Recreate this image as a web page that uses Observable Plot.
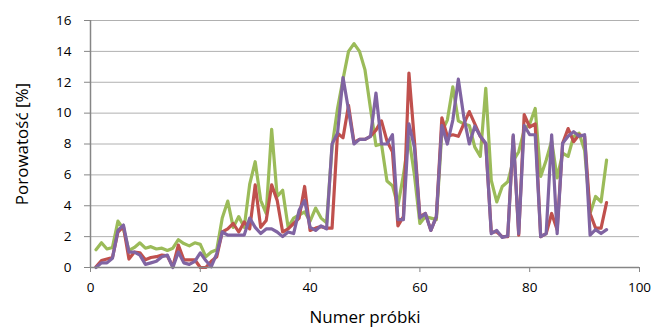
<!DOCTYPE html>
<html><head><meta charset="utf-8">
<script src="https://cdn.jsdelivr.net/npm/d3@7"></script>
<script src="https://cdn.jsdelivr.net/npm/@observablehq/plot@0.6"></script>
<style>body{margin:0;background:#fff}#chart{width:651px;height:331px}</style>
</head><body><div id="chart"></div>
<script>
const seriesNames = ["Seria 1", "Seria 2", "Seria 3"];
const seriesColors = ["#9BBB59", "#C0504D", "#8064A2"];
const green = [1.15,1.6,1.2,1.3,3.0,2.5,1.1,1.3,1.6,1.25,1.35,1.2,1.25,1.1,1.25,1.8,1.55,1.4,1.6,1.5,
  0.7,1.0,1.15,3.2,4.3,2.6,3.3,2.6,5.4,6.85,4.35,3.5,8.95,4.6,5.0,2.6,3.2,3.4,3.6,3.0,
  3.85,3.2,2.9,7.8,10.3,12.2,14.0,14.5,14.0,12.8,10.3,7.9,8.0,5.6,5.3,4.0,6.0,8.4,6.0,2.85,
  3.3,3.2,3.1,8.8,9.55,11.7,9.5,9.3,9.2,7.8,7.2,11.6,5.65,4.25,5.25,5.55,6.9,7.5,8.9,9.3,
  10.3,5.9,6.95,8.2,5.8,7.4,7.2,8.5,8.7,7.6,3.5,4.6,4.25,6.95];
const red = [0.05,0.45,0.55,0.65,2.3,2.65,0.55,1.0,0.95,0.5,0.65,0.7,0.8,0.75,0.05,1.45,0.5,0.5,0.5,0.0,
  0.0,0.4,0.7,2.3,2.5,2.85,2.3,2.95,2.5,5.35,2.6,3.05,5.35,4.35,2.3,2.5,2.85,3.2,5.25,2.4,
  2.55,2.65,2.55,2.55,8.7,8.4,10.5,8.1,8.3,8.3,8.5,8.9,9.5,8.2,7.5,2.7,3.3,12.6,8.2,3.3,
  3.5,2.4,3.3,9.7,8.5,8.6,8.5,9.3,10.1,9.3,8.5,8.0,2.3,2.3,2.0,2.0,8.5,2.1,9.9,9.1,
  9.3,2.0,2.2,3.5,2.45,8.05,9.0,8.15,8.6,8.5,3.5,2.55,2.55,4.2];
const purple = [0.0,0.3,0.3,0.6,2.4,2.75,1.0,1.0,0.8,0.2,0.3,0.4,0.7,0.8,0.0,1.0,0.3,0.2,0.4,0.95,
  0.45,0.05,0.9,2.3,2.1,2.1,2.1,2.1,3.2,2.6,2.2,2.5,2.5,2.3,2.0,2.3,2.2,3.7,4.35,2.6,
  2.4,2.7,2.5,8.0,8.7,12.3,10.2,8.0,8.3,8.3,8.5,11.3,8.0,8.0,8.6,3.1,3.1,9.3,7.8,3.2,
  3.5,2.4,3.3,9.2,8.0,9.55,12.2,9.75,8.0,9.15,8.5,8.05,2.2,2.4,1.95,2.05,8.6,2.2,9.2,8.6,
  8.6,2.0,2.2,8.6,2.2,8.05,8.5,8.8,8.5,8.6,2.1,2.45,2.2,2.45];
const xTicks = [0, 20, 40, 60, 80, 100];
const yTicks = [0, 2, 4, 6, 8, 10, 12, 14, 16];
const xTitle = "Numer próbki";
const yTitle = "Porowatość [%]";

const seriesData = [green, red, purple].map((vals, k) =>
  vals.map((v, i) => ({n: i + 1, v, series: seriesNames[k]})));

const axisGray = "#868686";
const chart = Plot.plot({
  width: 651, height: 331,
  marginLeft: 90, marginRight: 12, marginTop: 20, marginBottom: 64,
  style: {fontFamily: "'Open Sans', sans-serif", fontSize: "13px", color: "#000", background: "#fff"},
  x: {domain: [0, 100]},
  y: {domain: [0, 16]},
  color: {domain: seriesNames, range: seriesColors},
  marks: [
    Plot.gridY(yTicks.filter(d => d > 0), {stroke: "#b0b0b0", strokeOpacity: 1, strokeWidth: 1}),
    ...seriesData.map(d => Plot.line(d, {x: "n", y: "v", stroke: "series", strokeWidth: 3.2, strokeLinejoin: "round"})),
    Plot.ruleY([0], {stroke: axisGray, strokeWidth: 1.5}),
    Plot.ruleX([0], {stroke: axisGray, strokeWidth: 1.5}),
    Plot.axisX(xTicks, {stroke: axisGray, tickSize: 5, tickPadding: 10, fontSize: 13.5, label: null}),
    Plot.axisY(yTicks, {stroke: axisGray, tickSize: 6, tickPadding: 13, fontSize: 13.5, label: null}),
    Plot.text([xTitle], {frameAnchor: "bottom", dy: 55, fontSize: 17, fill: "#000"}),
    Plot.text([yTitle], {frameAnchor: "left", dx: -68, rotate: -90, textAnchor: "middle", fontSize: 17, fill: "#000"})
  ]
});
document.getElementById("chart").append(chart);
</script>
</body></html>
